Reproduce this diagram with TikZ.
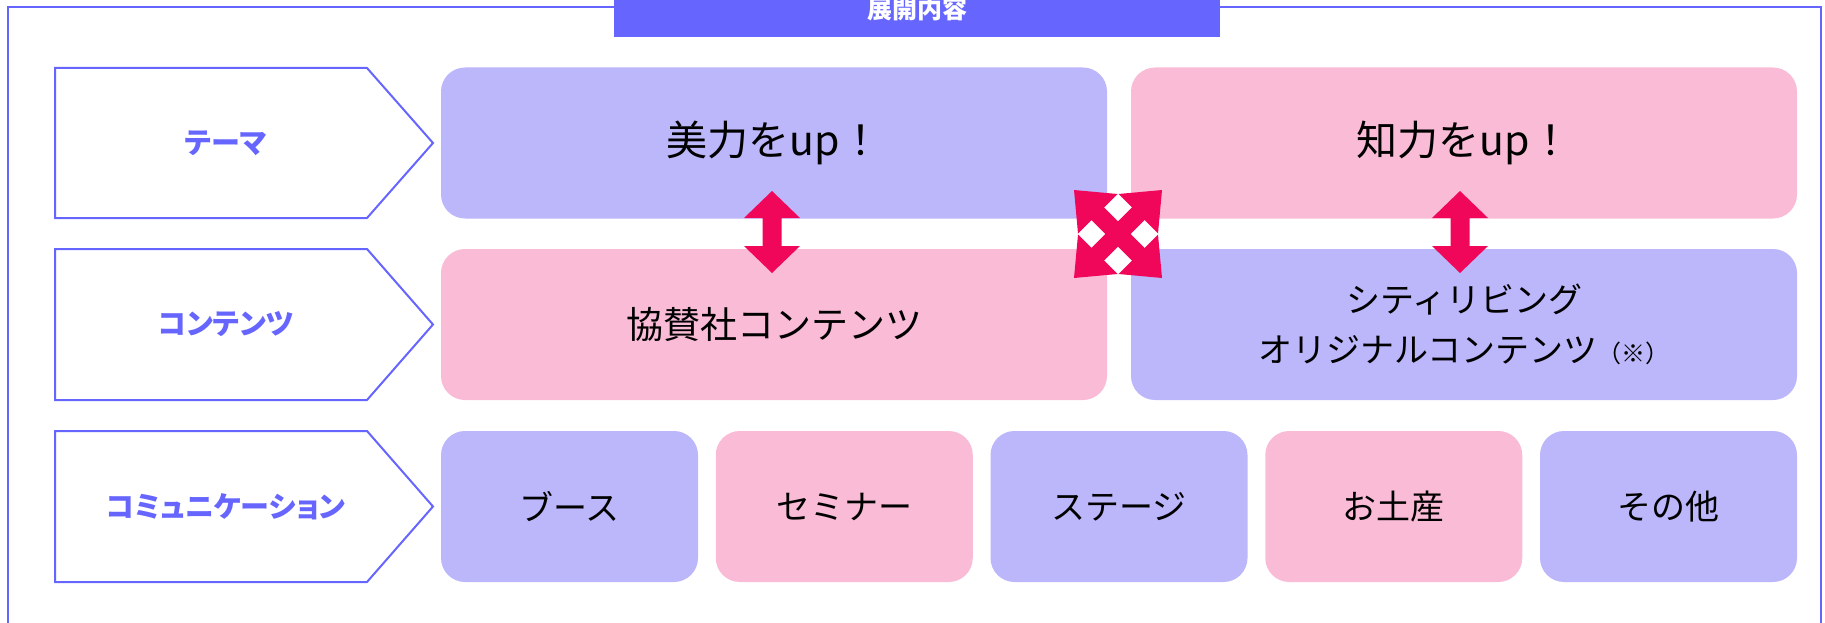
\documentclass[tikz,border=0pt]{standalone}
\usepackage{fontspec}
\setmainfont{Noto Sans CJK JP}
\newfontfamily\chevfont{Noto Sans CJK JP}[RawFeature=+palt]
\definecolor{frameblue}{HTML}{6666FF}
\definecolor{lav}{HTML}{BCB6FA}
\definecolor{pinkbox}{HTML}{F9BBD6}
\definecolor{arrowred}{HTML}{F0075A}
\tikzset{
  frameline/.style={draw=frameblue, line width=2pt},
  chev/.style={draw=frameblue, line width=2pt, fill=white, line join=miter},
  chevlabel/.style={text=frameblue, font=\chevfont\fontsize{29}{32}\selectfont\bfseries},
  card/.style={rounded corners=24pt, minimum height=151pt, inner sep=0pt, font=\fontsize{34}{50}\selectfont, align=center, text=black},
  lavcard/.style={card, fill=lav},
  pinkcard/.style={card, fill=pinkbox},
  bigtext/.style={font=\fontsize{41}{50}\selectfont},
  midtext/.style={font=\fontsize{37}{50}\selectfont},
  bigarrow/.style={fill=arrowred, draw=none},
}
\begin{document}
\begin{tikzpicture}[x=1pt,y=-1pt]
\useasboundingbox (0,0) rectangle (1825,623);
\clip (0,0) rectangle (1825,623);
% outer frame
\draw[frameline] (8,650) -- (8,7) -- (1821,7) -- (1821,650);
% title
\node[fill=frameblue, minimum width=606pt, minimum height=44pt, inner sep=0pt, anchor=north west] (titlebox) at (614,-7) {};
\node[text=white, font=\fontsize{25}{28}\selectfont\bfseries] (title) at (917,9) {展開内容};
% chevrons
\foreach \nm/\ya/\yb/\lab in {c1/68/218/テーマ, c2/249/400/コンテンツ, c3/431/582/コミュニケーション}{
  \draw[chev] (55,\ya) -- (367,\ya) -- (433,{(\ya+\yb)/2}) -- (367,\yb) -- (55,\yb) -- cycle;
  \node[chevlabel] (\nm) at (226,{(\ya+\yb)/2}) {\lab};
}
% row 1
\node[lavcard, bigtext, minimum width=666pt] (b11) at (774,143) {美力をup！};
\node[pinkcard, bigtext, minimum width=666pt] (b12) at (1464,143) {知力をup！};
% row 2
\node[pinkcard, midtext, minimum width=666pt] (b21) at (774,324.5) {協賛社コンテンツ};
\node[lavcard, minimum width=666pt] (b22) at (1464,324.5) {シティリビング\\オリジナルコンテンツ{\fontsize{24}{30}\selectfont （※）}};
% row 3
\node[lavcard, minimum width=257pt] (b31) at (569.5,506.5) {ブース};
\node[pinkcard, minimum width=257pt] (b32) at (844.25,506.5) {セミナー};
\node[lavcard, minimum width=257pt] (b33) at (1119,506.5) {ステージ};
\node[pinkcard, minimum width=257pt] (b34) at (1393.75,506.5) {お土産};
\node[lavcard, minimum width=257pt] (b35) at (1668.5,506.5) {その他};
% vertical double arrows
\foreach \cx in {772,1460}{
  \begin{scope}[shift={(\cx,232)}]
    \fill[bigarrow] (0,-41) -- (28,-14) -- (9.5,-14) -- (9.5,14) -- (28,14) -- (0,41)
      -- (-28,14) -- (-9.5,14) -- (-9.5,-14) -- (-28,-14) -- cycle;
  \end{scope}
}
% four-way diagonal arrow
\begin{scope}[shift={(1118,234)}]
  \draw[arrowred, line width=18pt] (-26,-26) -- (26,26);
  \draw[arrowred, line width=18pt] (-26,26) -- (26,-26);
  \foreach \r in {0,90,180,270}{
    \fill[bigarrow, rotate=\r] (44,44) -- (0.5,40) -- (40,0.5) -- cycle;
  }
\end{scope}
\end{tikzpicture}
\end{document}
